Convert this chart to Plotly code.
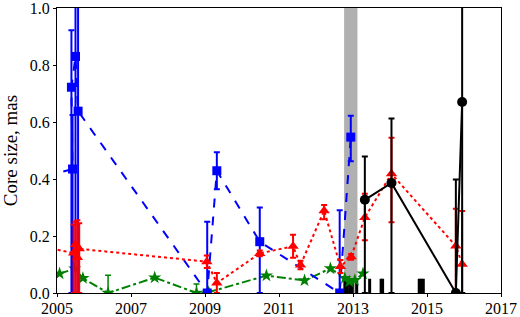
import plotly.graph_objects as go

# ---- data ----
blue_x = [2004.7, 2005.42, 2005.39, 2005.50, 2005.57, 2009.06, 2009.32, 2010.48, 2012.64, 2012.94]
blue_y = [0.41, 0.435, 0.722, 0.83, 0.638, 0.0, 0.429, 0.18, 0.0, 0.547]
blue_ep = [0.10, 0.19, 0.20, 0.40, 0.50, 0.25, 0.065, 0.12, 0.29, 0.075]
blue_em = [0.10, 0.435, 0.722, 0.83, 0.638, 0.0, 0.065, 0.18, 0.0, 0.085]

red_x = [2004.7, 2005.45, 2005.50, 2005.55, 2005.60, 2009.05, 2009.32, 2010.48, 2011.38,
         2011.58, 2012.22, 2012.66, 2012.95, 2013.32, 2014.04, 2015.78, 2015.95]
red_y = [0.16, 0.14, 0.17, 0.125, 0.155, 0.11, 0.035, 0.139, 0.164,
         0.098, 0.289, 0.093, 0.127, 0.265, 0.418, 0.165, 0.101]
red_ep = [0.05, 0.10, 0.08, 0.13, 0.09, 0.022, 0.035, 0.01, 0.04,
          0.015, 0.02, 0.023, 0.01, 0.083, 0.127, 0.131, 0.187]
red_em = [0.05, 0.14, 0.17, 0.125, 0.155, 0.022, 0.035, 0.01, 0.04,
          0.015, 0.03, 0.023, 0.01, 0.08, 0.17, 0.165, 0.101]

black_x = [2013.32, 2014.04, 2015.78, 2015.95]
black_y = [0.327, 0.386, 0.0, 0.67]
black_ep = [0.152, 0.226, 0.398, 0.50]
black_em = [0.327, 0.386, 0.0, 0.67]

green_x = [2005.07, 2005.48, 2005.70, 2006.38, 2007.64, 2008.77, 2009.10, 2010.66,
           2011.69, 2012.39, 2012.78, 2012.90, 2013.05, 2013.27]
green_y = [0.068, 0.085, 0.052, 0.0, 0.054, 0.0, 0.003, 0.061,
           0.044, 0.086, 0.052, 0.040, 0.045, 0.068]
green_ep = [0.0, 0.0, 0.0, 0.062, 0.0, 0.032, 0.0, 0.0,
            0.0, 0.0, 0.0, 0.0, 0.0, 0.0]

rug_x = [2012.78, 2012.84, 2012.91, 2012.98, 2013.10, 2013.45, 2013.76, 2013.80,
         2014.79, 2014.84, 2014.90]
rug_h = 0.05

band = [2012.76, 2013.12]

x_ticks = [2005, 2007, 2009, 2011, 2013, 2015, 2017]
y_ticks = [0.0, 0.2, 0.4, 0.6, 0.8, 1.0]

FONT = "Liberation Serif"

fig = go.Figure()

fig.add_shape(type="rect", xref="x", yref="paper", x0=band[0], x1=band[1], y0=0, y1=1,
              fillcolor="#b0b0b0", line_width=0, layer="below")

rx, ry = [], []
for v in rug_x:
    rx += [v, v, None]
    ry += [0, rug_h, None]
fig.add_trace(go.Scatter(x=rx, y=ry, mode="lines", line=dict(color="black", width=3),
                         hoverinfo="skip"))

fig.add_trace(go.Scatter(
    x=green_x, y=green_y, mode="lines+markers",
    line=dict(color="#008000", width=2, dash="dashdot"),
    marker=dict(symbol="star", size=10, color="#008000"),
    error_y=dict(type="data", array=green_ep, arrayminus=[0]*len(green_ep),
                 color="#008000", thickness=1.5, width=3)))

fig.add_trace(go.Scatter(
    x=blue_x, y=blue_y, mode="lines+markers",
    line=dict(color="#0000ff", width=2, dash="dash"),
    marker=dict(symbol="square", size=9, color="#0000ff"),
    error_y=dict(type="data", array=blue_ep, arrayminus=blue_em,
                 color="#0000ff", thickness=2, width=3)))

fig.add_trace(go.Scatter(
    x=red_x, y=red_y, mode="lines+markers",
    line=dict(color="#ff0000", width=2, dash="dot"),
    marker=dict(symbol="triangle-up", size=10, color="#ff0000"),
    error_y=dict(type="data", array=red_ep, arrayminus=red_em,
                 color="#ff0000", thickness=2, width=3)))

fig.add_trace(go.Scatter(
    x=black_x, y=black_y, mode="lines+markers",
    line=dict(color="black", width=2),
    marker=dict(symbol="circle", size=10, color="black"),
    error_y=dict(type="data", array=black_ep, arrayminus=black_em,
                 color="black", thickness=2, width=3)))

fig.update_layout(
    width=520, height=317,
    margin=dict(l=57, r=19, t=8, b=24),
    paper_bgcolor="white", plot_bgcolor="white",
    showlegend=False,
    font=dict(family=FONT, size=16, color="black"),
    xaxis=dict(range=[2005, 2017], tickvals=x_ticks, ticktext=[str(v) for v in x_ticks],
               showgrid=False, zeroline=False, showline=True, mirror=True,
               linecolor="black", linewidth=1, ticks="outside", ticklen=3,
               tickcolor="black", automargin=False, ticklabeloverflow="allow",
               ticklabelstandoff=-2),
    yaxis=dict(range=[0, 1], tickvals=y_ticks, ticktext=[f"{v:.1f}" for v in y_ticks],
               showgrid=False, zeroline=False, showline=True, mirror=True,
               linecolor="black", linewidth=1, ticks="outside", ticklen=3,
               tickcolor="black", automargin=False, ticklabeloverflow="allow",
               title=dict(text="Core size, mas", standoff=8)),
)

fig.write_html("out.html")
